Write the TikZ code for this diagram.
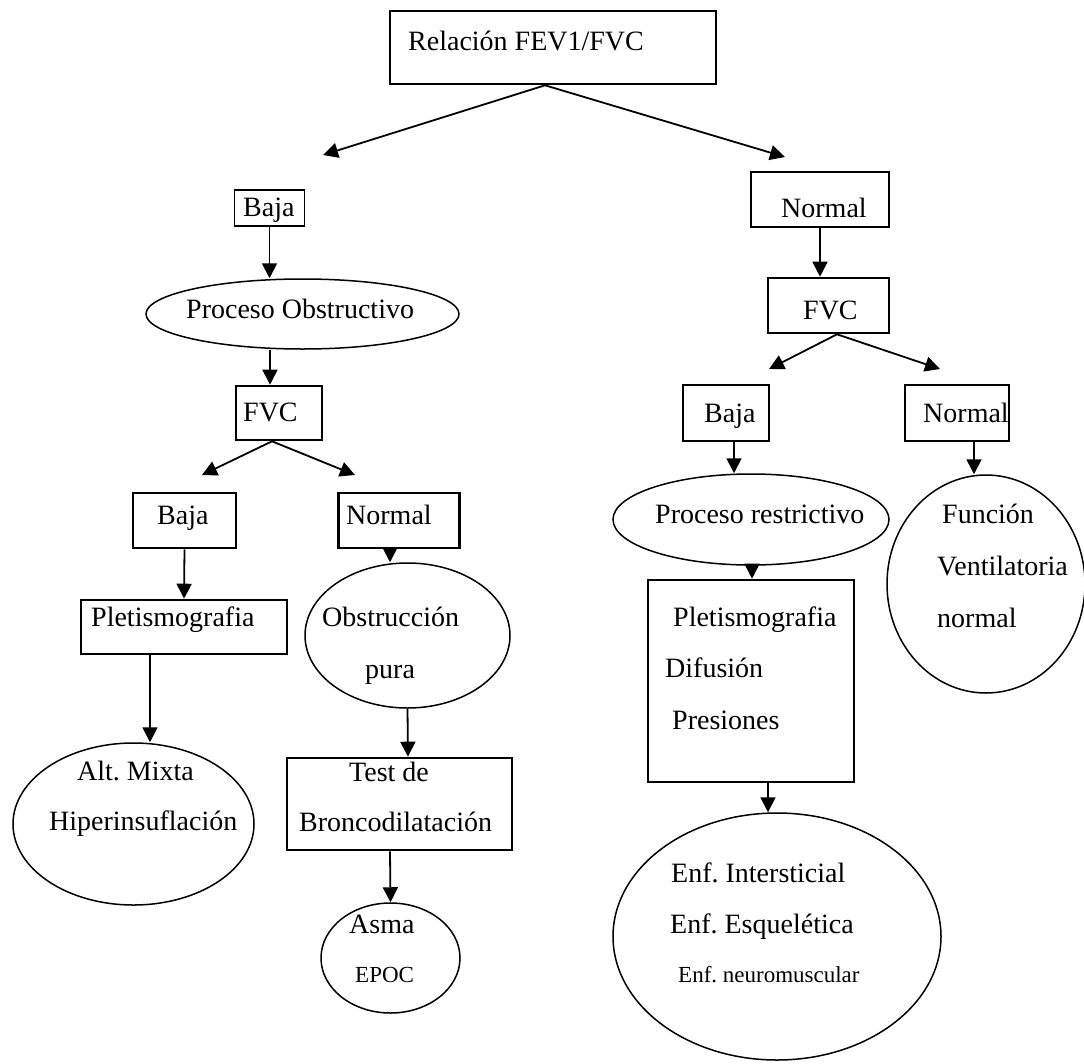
\documentclass[tikz,border=0pt]{standalone}
\usepackage{fontspec}
\setmainfont{Liberation Serif}
\usetikzlibrary{arrows.meta,shapes.geometric}
\frenchspacing
\begin{document}
\begin{tikzpicture}[x=1pt,y=-1pt,
  box/.style={draw,line width=2.6pt,rectangle,inner sep=0pt},
  oval/.style={draw,line width=1.5pt,ellipse,inner sep=0pt},
  arr/.style={line width=1.8pt,-{Triangle[length=15pt,width=15pt]}},
  txt/.style={anchor=base west,inner sep=0pt,font=\fontsize{28}{34}\selectfont},
  stxt/.style={anchor=base west,inner sep=0pt,font=\fontsize{23}{28}\selectfont}]
\fill[white] (0,0) rectangle (1084,1063);
\useasboundingbox (0,0) rectangle (1084,1063);

% ---------- shapes ----------
\node[box,minimum width=326pt,minimum height=73pt] (top) at (553,47.5) {};
\coordinate (tl) at (323,155);
\coordinate (tr) at (785,157);

% left branch
\node[box,line width=1.8pt,minimum width=70pt,minimum height=36pt] (b1) at (269.5,208) {};
\node[oval,minimum width=313pt,minimum height=70pt] (po) at (302.5,314) {};
\node[box,minimum width=86pt,minimum height=54pt] (f1) at (279,413) {};
\coordinate (f1l) at (202,475);
\coordinate (f1r) at (355,475);
\node[box,minimum width=103pt,minimum height=55pt] (b2) at (184.5,520.5) {};
\node[box,minimum width=121pt,minimum height=55pt] (n2) at (399,520.5) {};
\node[box,minimum width=206pt,minimum height=54pt] (pl1) at (184,627) {};
\node[oval,minimum width=241pt,minimum height=162pt] (am) at (133.5,824) {};
\node[oval,minimum width=205pt,minimum height=145pt] (ob) at (407.5,635.5) {};
\node[box,minimum width=225pt,minimum height=92pt] (tb) at (399.5,804) {};
\node[oval,minimum width=139pt,minimum height=110pt] (as) at (390.5,958) {};

% right branch
\node[box,minimum width=138pt,minimum height=55pt] (n3) at (820,199.5) {};
\node[box,minimum width=121pt,minimum height=55pt] (f2) at (828.5,305.5) {};
\coordinate (f2l) at (769,369);
\coordinate (f2r) at (940,369);
\node[box,minimum width=86pt,minimum height=56pt] (b3) at (726,413) {};
\node[box,minimum width=104pt,minimum height=56pt] (n4) at (957,413) {};
\node[oval,minimum width=276pt,minimum height=91pt] (pr) at (751,519.5) {};
\node[box,minimum width=206pt,minimum height=202pt] (pb) at (751,681) {};
\node[oval,minimum width=198pt,minimum height=218pt] (fn) at (986,584) {};
\node[oval,minimum width=328pt,minimum height=247pt] (en) at (777,936.5) {};

% ---------- connectors ----------
\draw[arr] ([xshift=-8pt]top.south) -- (tl);
\draw[arr] ([xshift=-8pt]top.south) -- (tr);
\draw[arr] (b1.south) -- (b1.south |- po.north);
\draw[arr] ([xshift=-32.5pt]po.south) -- ([xshift=-9pt]f1.north);
\draw[arr] ([xshift=-7pt]f1.south) -- (f1l);
\draw[arr] ([xshift=-7pt]f1.south) -- (f1r);
\draw[arr] (b2.south) -- (pl1.north);
\draw[arr] ([xshift=-34pt]pl1.south) -- ([xshift=16.5pt]am.north);
\draw[arr] ([xshift=-9pt]n2.south) -- ([xshift=-17.5pt]ob.north);
\draw[arr] (ob.south) -- ([xshift=8.5pt]tb.north);
\draw[arr] ([xshift=-9.5pt]tb.south) -- (as.north);

\draw[arr] (n3.south) -- ([xshift=-8.5pt]f2.north);
\draw[arr] ([xshift=8.5pt]f2.south) -- (f2l);
\draw[arr] ([xshift=8.5pt]f2.south) -- (f2r);
\draw[arr] ([xshift=8pt]b3.south) -- ([xshift=-17pt]pr.north);
\draw[arr] ([xshift=17pt]n4.south) -- ([xshift=-12pt]fn.north);
\draw[arr] ([xshift=1pt]pr.south) -- ([xshift=1pt]pb.north);
\draw[arr] ([xshift=17pt]pb.south) -- ([xshift=-9pt]en.north);

% ---------- texts ----------
\node[txt] (t1) at (408,50) {Relación FEV1/FVC};
\node[txt] (t2) at (243,216) {Baja};
\node[txt] (t3) at (186,318) {Proceso Obstructivo};
\node[txt] (t4) at (243,421) {FVC};
\node[txt] (t5) at (157,524) {Baja};
\node[txt] (t6) at (346,524) {Normal};
\node[txt] (t7) at (91,626) {Pletismografia};
\node[txt] (t8) at (322,626) {Obstrucción};
\node[txt] (t9) at (365,678) {pura};
\node[txt] (t10) at (77,780) {Alt. Mixta};
\node[txt] (t11) at (49,830) {Hiperinsuflación};
\node[txt] (t12) at (349,781) {Test de};
\node[txt] (t13) at (299,831) {Broncodilatación};
\node[txt] (t14) at (349,933) {Asma};
\node[stxt] (t15) at (355,982) {EPOC};

\node[txt] (t16) at (781,217) {Normal};
\node[txt] (t17) at (803,319) {FVC};
\node[txt] (t18) at (704,422) {Baja};
\node[txt] (t19) at (923,422) {Normal};
\node[txt] (t20) at (655,523) {Proceso restrictivo};
\node[txt] (t21) at (673,626) {Pletismografia};
\node[txt] (t22) at (665,677) {Difusión};
\node[txt] (t23) at (672,729) {Presiones};
\node[txt] (t24) at (942,523) {Función};
\node[txt] (t25) at (937,575) {Ventilatoria};
\node[txt] (t26) at (937,627) {normal};
\node[txt] (t27) at (671,882) {Enf. Intersticial};
\node[txt] (t28) at (670,933) {Enf. Esquelética};
\node[stxt] (t29) at (678,982) {Enf. neuromuscular};
\end{tikzpicture}
\end{document}
